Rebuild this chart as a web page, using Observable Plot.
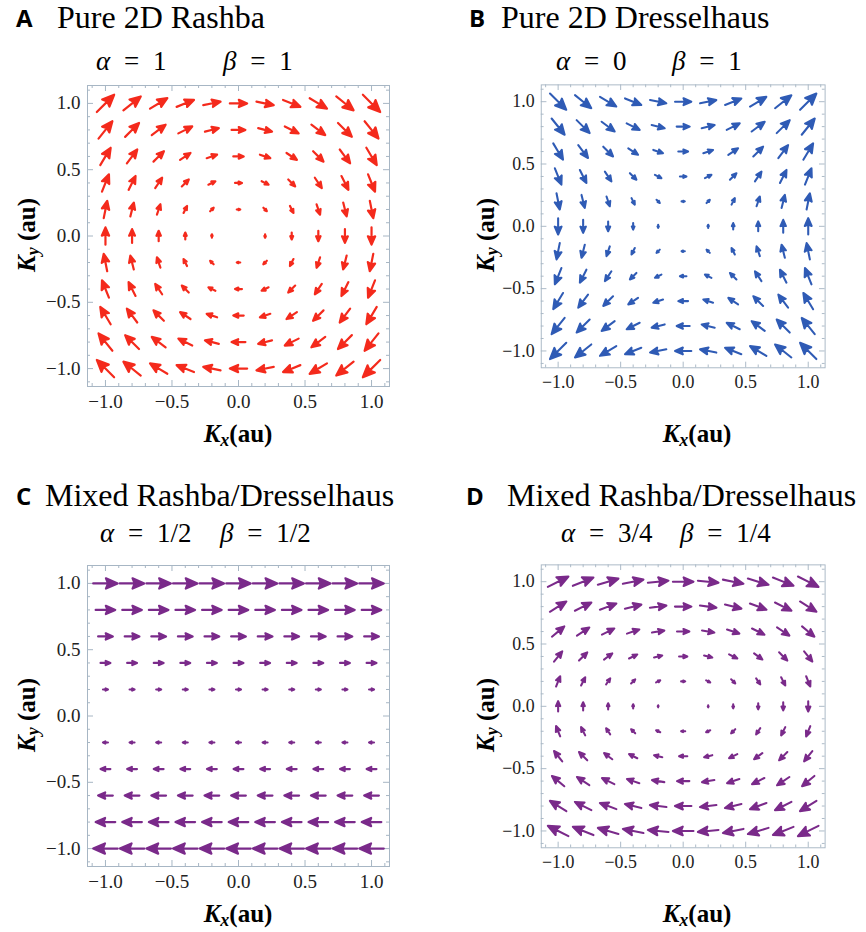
<!DOCTYPE html>
<html><head><meta charset="utf-8">
<script src="https://cdn.jsdelivr.net/npm/d3@7"></script>
<script src="https://cdn.jsdelivr.net/npm/@observablehq/plot@0.6"></script>
<style>
body{margin:0;background:#fff;}
#page{position:relative;width:866px;height:932px;overflow:hidden;background:#fff;}
.panel{position:absolute;}
#overlay{position:absolute;left:0;top:0;pointer-events:none;}
.serif{font-family:"Liberation Serif","Times New Roman",Times,"DejaVu Serif",serif;}
.sans{font-family:"Open Sans","Liberation Sans",Arial,sans-serif;}
</style></head>
<body><div id="page"></div>
<script>
// grid positions (kx and ky, au)
const grid = [-1, -0.8, -0.6, -0.4, -0.2, 0, 0.2, 0.4, 0.6, 0.8, 1];
// Arrow components. Horizontal component depends on the row (ky ascending),
// vertical component depends on the column (kx ascending).
const rowU_A = [-1, -0.8, -0.6, -0.4, -0.2, 0, 0.2, 0.4, 0.6, 0.8, 1];
const colV_A = [1, 0.8, 0.6, 0.4, 0.2, 0, -0.2, -0.4, -0.6, -0.8, -1];
const rowU_B = [-1, -0.8, -0.6, -0.4, -0.2, 0, 0.2, 0.4, 0.6, 0.8, 1];
const colV_B = [-1, -0.8, -0.6, -0.4, -0.2, 0, 0.2, 0.4, 0.6, 0.8, 1];
const rowU_C = [-1, -0.8, -0.6, -0.4, -0.2, 0, 0.2, 0.4, 0.6, 0.8, 1];
const colV_C = [0, 0, 0, 0, 0, 0, 0, 0, 0, 0, 0];
const rowU_D = [-1, -0.8, -0.6, -0.4, -0.2, 0, 0.2, 0.4, 0.6, 0.8, 1];
const colV_D = [0.5, 0.4, 0.3, 0.2, 0.1, 0, -0.1, -0.2, -0.3, -0.4, -0.5];

const majorTicks = [-1, -0.5, 0, 0.5, 1];
const minorTicks = [-1.1, -1, -0.9, -0.8, -0.7, -0.6, -0.5, -0.4, -0.3, -0.2, -0.1, 0, 0.1, 0.2, 0.3, 0.4, 0.5, 0.6, 0.7, 0.8, 0.9, 1, 1.1];

const panelLetters = ["A", "B", "C", "D"];
const panelTitles = ["Pure 2D Rashba", "Pure 2D Dresselhaus", "Mixed Rashba/Dresselhaus", "Mixed Rashba/Dresselhaus"];
const alphaLabels = ["1", "0", "1/2", "3/4"];
const betaLabels = ["1", "1", "1/2", "1/4"];
const arrowColors = ["#f42a1c", "#2f5bb5", "#7a2a8a", "#7a2a8a"];
const frameColor = "#a7b6c4";
const SERIF = '"Liberation Serif","Times New Roman",Times,"DejaVu Serif",serif';

const arrowShape = {
  draw(ctx, l) {
    const h = 0.48 * l, w = 0.21 * l;
    ctx.moveTo(0, 0);
    ctx.lineTo(0, -l + h * 0.8);
    ctx.moveTo(0, -l);
    ctx.lineTo(w, -l + h);
    ctx.lineTo(0, -l + 0.82 * h);
    ctx.lineTo(-w, -l + h);
    ctx.closePath();
  }
};

function panel(rowU, colV, color) {
  const data = [];
  grid.forEach((ky, j) => grid.forEach((kx, i) => {
    const u = rowU[j], v = colV[i];
    const m = Math.hypot(u, v);
    if (m > 0) data.push({kx, ky, m, r: Math.atan2(u, v) * 180 / Math.PI});
  }));
  const W = 433, H = 400, ml = 87, mr = 44, mt = 10, mb = 89;
  const iw = W - ml - mr, ih = H - mt - mb;
  const isMajor = d => majorTicks.includes(d);
  const len = d => isMajor(d) ? 6 : 3;
  return Plot.plot({
    width: W, height: H, marginLeft: ml, marginRight: mr, marginTop: mt, marginBottom: mb,
    x: {domain: [-1.135, 1.135]},
    y: {domain: [-1.135, 1.135]},
    length: {domain: [0, d3.max(data, d => d.m)], range: [0, 24.5]},
    style: {fontFamily: SERIF, fontSize: "19px", background: "transparent", color: "#222"},
    marks: [
      ...minorTicks.map(t => Plot.tickX([t], {x: d => d, insetTop: ih - len(t), stroke: frameColor})),
      ...minorTicks.map(t => Plot.tickX([t], {x: d => d, insetBottom: ih - len(t), stroke: frameColor})),
      ...minorTicks.map(t => Plot.tickY([t], {y: d => d, insetRight: iw - len(t), stroke: frameColor})),
      ...minorTicks.map(t => Plot.tickY([t], {y: d => d, insetLeft: iw - len(t), stroke: frameColor})),
      Plot.frame({stroke: frameColor}),
      Plot.vector(data, {x: "kx", y: "ky", length: "m", rotate: "r", anchor: "middle",
        shape: arrowShape, fill: color, stroke: color, strokeWidth: 2.2, strokeLinejoin: "round", strokeLinecap: "round"}),
      Plot.axisX(majorTicks, {tickSize: 0, tickPadding: 8, tickFormat: d3.format(".1f"), label: null, fontFamily: SERIF, fontSize: 19}),
      Plot.axisY(majorTicks, {tickSize: 0, tickPadding: 7, tickFormat: d3.format(".1f"), label: null, fontFamily: SERIF, fontSize: 19})
    ]
  });
}

const page = document.getElementById("page");
const fields = [[rowU_A, colV_A], [rowU_B, colV_B], [rowU_C, colV_C], [rowU_D, colV_D]];
const pos = [[0, 75], [459, 75], [0, 555], [459, 555]];
fields.forEach(([u, v], k) => {
  const div = document.createElement("div");
  div.className = "panel";
  div.style.left = pos[k][0] + "px";
  div.style.top = pos[k][1] + "px";
  div.appendChild(panel(u, v, arrowColors[k]));
  page.appendChild(div);
});

// titles and labels (text overlay)
const letterX = [16, 469, 16, 466];
const titleX = [57, 501, 45, 507];
const titleY = [28, 28, 506, 506];
const alphaX = [96, 556, 100, 561];
const betaX = [223, 672, 220, 680];
const mathY = [70, 70, 542, 542];
const frameLeft = [87, 546, 87, 546];
const frameTop = [85, 85, 565, 565];
let t = "";
for (let k = 0; k < 4; k++) {
  t += `<text class="sans" x="${letterX[k]}" y="${titleY[k] - 1}" font-weight="700" font-size="24">${panelLetters[k]}</text>`;
  t += `<text class="serif" x="${titleX[k]}" y="${titleY[k]}" font-size="32">${panelTitles[k]}</text>`;
  t += `<text class="serif" x="${alphaX[k]}" y="${mathY[k]}" font-size="27" word-spacing="7"><tspan font-style="italic">α</tspan> = ${alphaLabels[k]}</text>`;
  t += `<text class="serif" x="${betaX[k]}" y="${mathY[k]}" font-size="27" word-spacing="7"><tspan font-style="italic">β</tspan> = ${betaLabels[k]}</text>`;
  const cx = frameLeft[k] + 151, cy = frameTop[k] + 150;
  t += `<text class="serif" x="${cx}" y="${frameTop[k] + 357}" text-anchor="middle" font-weight="700" font-size="25"><tspan font-style="italic">K</tspan><tspan font-style="italic" font-size="18" dy="4">x</tspan><tspan dy="-4">(au)</tspan></text>`;
  const lx = frameLeft[k] - 52;
  t += `<text class="serif" transform="translate(${lx},${cy}) rotate(-90)" text-anchor="middle" font-weight="700" font-size="25"><tspan font-style="italic">K</tspan><tspan font-style="italic" font-size="18" dy="4">y</tspan><tspan dy="-4"> (au)</tspan></text>`;
}
const ov = document.createElementNS("http://www.w3.org/2000/svg", "svg");
ov.setAttribute("id", "overlay");
ov.setAttribute("width", 866);
ov.setAttribute("height", 932);
ov.innerHTML = t;
page.appendChild(ov);
</script>
</body></html>
